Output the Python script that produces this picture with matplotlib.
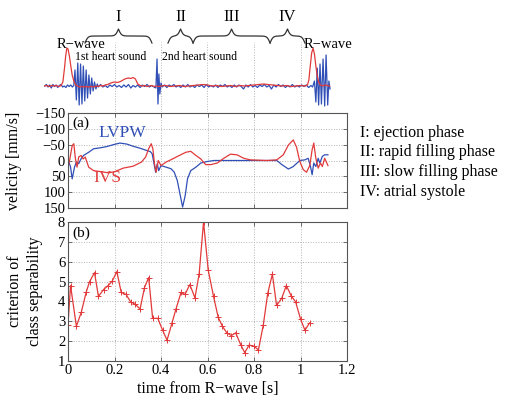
import numpy as np
import matplotlib
matplotlib.use("Agg")
import matplotlib.pyplot as plt

plt.rcParams['font.family'] = ['Liberation Serif', 'DejaVu Serif']
plt.rcParams['mathtext.fontset'] = 'stix'

RED = '#e23a3a'
BLUE = '#2f4fb6'
GRID = '#b4b4b4'
FRAME = '#555555'

# ---- top strip: ECG / heart sound traces (arbitrary units, baseline = 0)
ecg_t = [-0.1, -0.09, -0.08, -0.07, -0.06, -0.05, -0.04, -0.03, -0.022, -0.015, -0.01, -0.005,
         0.0, 0.006, 0.012, 0.018, 0.025, 0.032, 0.04, 0.05, 0.06, 0.07, 0.08, 0.09, 0.1, 0.11,
         0.12, 0.13, 0.14, 0.15, 0.16, 0.17, 0.18, 0.19, 0.2, 0.21, 0.22, 0.23, 0.24, 0.25, 0.26,
         0.27, 0.28, 0.29, 0.3, 0.31, 0.32, 0.33, 0.34, 0.35, 0.36, 0.37, 0.38, 0.39, 0.4, 0.42,
         0.44, 0.46, 0.48, 0.5, 0.52, 0.54, 0.56, 0.58, 0.6, 0.62, 0.64, 0.66, 0.68, 0.7, 0.72,
         0.74, 0.76, 0.78, 0.8, 0.82, 0.84, 0.86, 0.88, 0.9, 0.92, 0.94, 0.96, 0.98, 1.0, 1.02,
         1.03, 1.036, 1.042, 1.048, 1.054, 1.06, 1.066, 1.072, 1.078, 1.085, 1.095, 1.105, 1.115,
         1.125]
ecg_v = [0, 0.5, -0.5, 0.5, 0, 0.5, -0.5, 0.5, 4, 18, 30, 38,
         37, 30, 20, 11, 5, 1.5, 0, -1, -0.5, -1, -0.5, -1, -0.5, -1,
         0, -0.5, 0.5, 0, 1, 1.5, 2.5, 3.5, 4, 3.5, 4, 5, 6.5, 7.5, 8,
         7.5, 8.5, 7, 2, 0.5, 0, 0.5, -0.5, 0, 0.5, -0.5, 0, -0.5, 0, 0.5,
         -0.5, 0, 0.5, -0.5, 0, 0.5, 1, 1.5, 1, 0, 0.5, -0.5, 0, 0.5, -0.5,
         0.5, 0, 0.5, 1, 1.5, 2, 1.5, 1, 0.5, 0, 0.5, -0.5, 0, 0.5, 0,
         1, 6, 20, 33, 38, 32, 20, 10, 4, 1, 0, 1, 0.5,
         0]

pcg_t = [-0.1, -0.093, -0.086, -0.079, -0.072, -0.065, -0.058, -0.051, -0.044, -0.037, -0.03,
         -0.023, -0.016, -0.009, -0.002, 0.005, 0.012, 0.019, 0.025,
         0.03, 0.036, 0.042, 0.048, 0.054, 0.06, 0.066, 0.072, 0.078, 0.084, 0.09, 0.096, 0.102,
         0.108, 0.114, 0.12, 0.126,
         0.13, 0.14, 0.15, 0.16, 0.17, 0.18, 0.19, 0.2, 0.21, 0.22, 0.23, 0.24, 0.25, 0.26, 0.27,
         0.28, 0.29, 0.3, 0.31, 0.32, 0.33, 0.34, 0.35, 0.36, 0.37,
         0.378, 0.383, 0.387, 0.391, 0.395, 0.4, 0.405,
         0.415, 0.425, 0.435, 0.445, 0.455, 0.465, 0.475, 0.485, 0.495, 0.505, 0.515, 0.525,
         0.535, 0.545, 0.555, 0.565, 0.575, 0.585, 0.595, 0.605, 0.615, 0.625, 0.635, 0.645,
         0.655, 0.665, 0.675, 0.685, 0.695, 0.705, 0.715, 0.725, 0.735, 0.745, 0.755, 0.765,
         0.775, 0.785, 0.795, 0.805, 0.815, 0.825, 0.835, 0.845, 0.855, 0.865, 0.875, 0.885,
         0.895, 0.905, 0.915, 0.925, 0.935, 0.945, 0.955, 0.965, 0.975, 0.985, 0.995, 1.005,
         1.015, 1.025, 1.035, 1.045, 1.052,
         1.06, 1.066, 1.072, 1.078, 1.084, 1.09, 1.097, 1.104, 1.11, 1.117, 1.122, 1.127]
pcg_v = [0, 1.5, -1, 1, -2, 1.5, -0.5, 1, -1.5, 0.5, 1.5,
         -1, 0, -1.5, 1, -0.5, 1, -1, 0.5,
         16, -14, 23, -19, 22, -18, 20, -15, 16, -12, 11, -8, 8,
         -5, 4, -3, 2,
         -1, 1.5, -1, 0.5, -1.5, 1, -0.5, 1.5, -1, 0.5, -1.5, 1, -1, 1.5, -2,
         0.5, -1, 1, -1.5, 1, -0.5, 1.5, -1, 0.5, -1,
         -2, 27, -18, 12, -8, 3, -1,
         1, -1.5, 1, -0.5, 1.5, -1, 0.5, -1.5, 1, -1, 1.5, -1,
         0.5, -1.5, 1, -0.5, 1, -1.5, 1.5, -1, 0.5, -1, 1, -1.5,
         1, -0.5, 1.5, -1, 0.5, -1.5, 1, -1, 1, -0.5, -3, 1,
         -1, 1.5, -1, 0.5, -1.5, 1, -0.5, 1.5, -1, 0.5, -3, 1,
         -1, 1.5, -0.5, 1, -1.5, 0.5, -1, 1.5, -1, 0.5, -1, 1,
         -0.5, 1, -1.5, 0.5, -1,
         5, -16, 18, -19, 22, -18, 27, -20, 31, -19, 5, -3]

# ---- panel (a): wall velocities [mm/s]
lvpw_t = [0.0, 0.011, 0.018, 0.028, 0.036, 0.046, 0.056, 0.067, 0.089, 0.11, 0.138, 0.167,
          0.195, 0.223, 0.252, 0.28, 0.309, 0.337, 0.354, 0.362, 0.37, 0.377, 0.384, 0.39, 0.4,
          0.422, 0.443, 0.457, 0.47, 0.48, 0.493, 0.504, 0.514, 0.528, 0.55, 0.571, 0.6, 0.628,
          0.685, 0.827, 0.898, 0.92, 0.948, 0.969, 0.997, 1.019, 1.033, 1.043, 1.05, 1.057,
          1.066, 1.076, 1.083, 1.094, 1.104, 1.118]
lvpw_v = [-5, 21, 58, 21, 5, 10, -5, -16, -26, -37, -40, -44,
          -50, -55, -52, -45, -39, -32, -28, -21, 10, 37, 10, 32, 16,
          21, 26, 37, 63, 100, 147, 111, 58, 32, 21, 8, 3, 0,
          0, 0, 0, 13, 27, 19, 0, -2, -7, 19, 45, 8,
          19, -7, 8, -13, -18, -18]

ivs_t = [0.0, 0.008, 0.018, 0.025, 0.032, 0.039, 0.046, 0.056, 0.065, 0.074, 0.089, 0.11,
         0.138, 0.174, 0.202, 0.238, 0.28, 0.316, 0.334, 0.348, 0.358, 0.365, 0.372, 0.379,
         0.388, 0.4, 0.422, 0.45, 0.479, 0.507, 0.528, 0.55, 0.571, 0.592, 0.614, 0.642, 0.67,
         0.699, 0.727, 0.756, 0.784, 0.855, 0.898, 0.926, 0.948, 0.969, 0.983, 0.997, 1.012,
         1.026, 1.04, 1.05, 1.057, 1.066, 1.076, 1.086, 1.094, 1.104, 1.118]
ivs_v = [21, -5, -47, -53, -5, 21, -11, -16, -5, -11, 21, 32,
         35, 39, 35, 24, 18, 5, -11, -39, -53, -37, 10, 37,
         0, 16, 5, -5, -16, -26, -29, -16, -5, 13, 13, 8, -7,
         -20, -18, -7, -2, 0, -2, -18, -49, -65, -42, 3, 29,
         37, 16, -34, -55, -7, 24, 8, 19, -7, 16]

# ---- panel (b): criterion of class separability
crit_t = [0.0, 0.011, 0.036, 0.057, 0.079, 0.093, 0.114, 0.131, 0.153, 0.171, 0.19, 0.21,
          0.229, 0.25, 0.269, 0.29, 0.31, 0.329, 0.347, 0.364, 0.386, 0.407, 0.426, 0.447,
          0.464, 0.486, 0.503, 0.524, 0.546, 0.564, 0.583, 0.603, 0.626, 0.646, 0.664, 0.683,
          0.703, 0.721, 0.743, 0.76, 0.779, 0.8, 0.819, 0.84, 0.859, 0.879, 0.897, 0.919,
          0.939, 0.96, 0.979, 1.0, 1.019, 1.039]
crit_v = [2.83, 4.8, 2.75, 3.45, 4.5, 5.0, 5.45, 4.25, 4.6, 4.78, 5.02, 5.5,
          4.45, 4.35, 3.98, 3.85, 3.62, 4.7, 5.2, 3.15, 3.15, 2.55, 2.05, 2.9,
          3.6, 4.45, 4.35, 4.85, 4.18, 5.38, 8.0, 5.58, 4.25, 3.2, 2.75, 2.42,
          2.28, 2.42, 1.82, 1.42, 1.8, 1.75, 1.55, 2.82, 4.4, 5.38, 3.8, 4.15,
          4.8, 4.28, 3.98, 3.12, 2.55, 2.92]

xticks = [0, 0.2, 0.4, 0.6, 0.8, 1.0, 1.2]
xtick_labels = ['0', '0.2', '0.4', '0.6', '0.8', '1', '1.2']
vel_ticks = [-150, -100, -50, 0, 50, 100, 150]
vel_labels = ['\u2212150', '\u2212100', '\u221250', '0', '50', '100', '150']
crit_ticks = [1, 2, 3, 4, 5, 6, 7, 8]

phases = ['I', 'II', 'III', 'IV']
phase_spans = [(0.073, 0.361), (0.43, 0.538), (0.538, 0.869), (0.869, 1.019)]
phase_text = ['I: ejection phase', 'II: rapid filling phase',
              'III: slow filling phase', 'IV: atrial systole']

W, H = 524, 399
fig = plt.figure(figsize=(5.24, 3.99), dpi=100)


def px_axes(x0, x1, ytop, ybot):
    return fig.add_axes([x0 / W, (H - ybot) / H, (x1 - x0) / W, (ybot - ytop) / H])


def style(ax):
    for s in ax.spines.values():
        s.set_color(FRAME)
        s.set_linewidth(0.8)
    ax.tick_params(direction='in', length=3, width=0.6, color=FRAME,
                   top=True, right=True, labelsize=10.5, pad=2)
    ax.grid(True, linestyle=':', color=GRID, linewidth=0.7)


# top strip (no frame), x from -0.1 so the first R-wave fits
ax0 = px_axes(68 - 0.1 * 232.5, 347, 40, 112)
ax0.set_xlim(-0.1, 1.2)
ax0.set_ylim(-26, 46)
ax0.axis('off')
ax0.vlines([0.2, 0.4, 0.6, 0.8, 1.0], -26, 44, colors=GRID, linestyles=':', linewidth=0.7)
ax0.plot(pcg_t, pcg_v, color=BLUE, lw=0.9, clip_on=False)
ax0.plot(ecg_t, ecg_v, color=RED, lw=0.9, clip_on=False)


def brace(ax, x1, x2, y0, h, beta=160.0):
    # horizontal curly brace, tip pointing up
    n = 201
    x = np.linspace(x1, x2, n)
    xh = x[:n // 2 + 1]
    yh = 1 / (1 + np.exp(-beta * (xh - xh[0]))) + 1 / (1 + np.exp(-beta * (xh - xh[-1])))
    y = np.concatenate((yh, yh[-2::-1]))
    ax.plot(x, y0 + (y - 0.5) * h, color='#333333', lw=0.9, clip_on=False)


for name, (a, b) in zip(phases, phase_spans):
    brace(ax0, a, b, 43, 14)
    ax0.text((a + b) / 2, 69, name, ha='center', va='center', fontsize=12)

ax0.text(-0.047, 41, 'R\u2212wave', ha='left', va='center', fontsize=10.5)
ax0.text(1.012, 41, 'R\u2212wave', ha='left', va='center', fontsize=10.5)
ax0.text(0.03, 29, '1st heart sound', ha='left', va='center', fontsize=8.5)
ax0.text(0.405, 29, '2nd heart sound', ha='left', va='center', fontsize=8.5)

# panel (a)
ax1 = px_axes(68, 347, 113, 208)
style(ax1)
ax1.plot(lvpw_t, lvpw_v, color=BLUE, lw=0.9)
ax1.plot(ivs_t, ivs_v, color=RED, lw=0.9)
ax1.set_xlim(0, 1.2)
ax1.set_ylim(150, -150)
ax1.set_xticks(xticks)
ax1.set_xticklabels([])
ax1.set_yticks(vel_ticks)
ax1.set_yticklabels(vel_labels)
ax1.set_ylabel('velicity [mm/s]', fontsize=11.5)
ax1.yaxis.set_label_coords(-0.165, 0.5)
ax1.text(0.015, 0.96, '(a)', transform=ax1.transAxes, ha='left', va='top', fontsize=11)
ax1.text(0.232, -88, 'LVPW', color=BLUE, ha='center', va='center', fontsize=12.5)
ax1.text(0.168, 56, 'IVS', color=RED, ha='center', va='center', fontsize=12.5)

# panel (b)
ax2 = px_axes(68, 347, 222, 361)
style(ax2)
ax2.plot(crit_t, crit_v, color=RED, lw=0.9, marker='+', ms=4.5, mew=0.7)
ax2.set_xlim(0, 1.2)
ax2.set_ylim(1, 8)
ax2.set_xticks(xticks)
ax2.set_xticklabels(xtick_labels)
ax2.set_yticks(crit_ticks)
ax2.set_xlabel('time from R\u2212wave [s]', fontsize=11.5)
ax2.xaxis.set_label_coords(0.5, -0.145)
ax2.set_ylabel('criterion of\nclass separability', fontsize=11.5, linespacing=1.35)
ax2.yaxis.set_label_coords(-0.09, 0.5)
ax2.text(0.015, 0.97, '(b)', transform=ax2.transAxes, ha='left', va='top', fontsize=11)

# phase legend on the right
for i, txt in enumerate(phase_text):
    fig.text(360 / W, (H - (133 + 19.5 * i)) / H, txt, ha='left', va='center', fontsize=11.5)

fig.savefig('out.png', dpi=100)
